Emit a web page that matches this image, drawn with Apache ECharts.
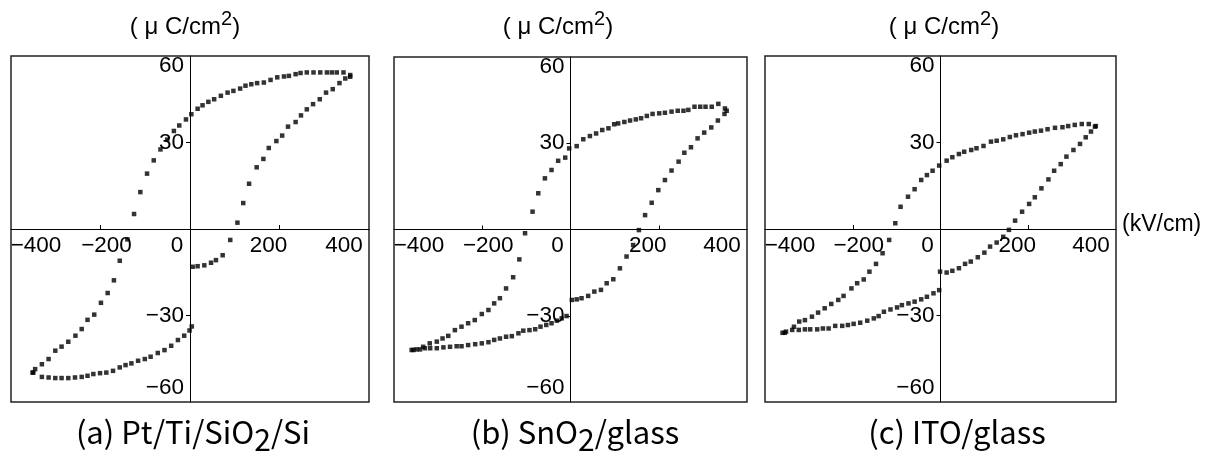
<!DOCTYPE html>
<html>
<head>
    <meta charset="utf-8">
    <title>P-E hysteresis</title>
    <script src="https://cdn.jsdelivr.net/npm/echarts@6/dist/echarts.min.js"></script>
    <style>
        html, body { margin: 0; padding: 0; background: #fff; }
        #main { width: 1213px; height: 458px; }
    </style>
</head>
<body>
<div id="main"></div>
<script>
    // field (kV/cm) and polarization (uC/cm2)
    // (a) Pt/Ti/SiO2/Si
    var aUpE = [358,343,328,317,306,291,276,261,247,236,221,210,195,180,165,150,137,124,112,97,84,69,54,41,28,17,3,-9,-24,-36,-51,-66,-81,-96,-111,-125,-140,-157,-170,-184,-199,-214,-229,-242,-256,-272,-287,-301,-316,-331,-346,-352];
    var aUpP = [53.4,54.3,54.3,54.3,54.3,54.3,54.3,54.3,54.1,53.7,53.1,52.9,52.6,51.7,50.8,50.6,50.2,49.7,48.7,47.9,47.3,46.2,45.0,44.1,42.9,41.7,39.8,38.0,35.9,34.0,31.0,27.6,23.8,19.2,12.8,5.2,-3.6,-11.0,-17.8,-22.2,-25.6,-29.7,-31.5,-34.7,-37.0,-39.1,-40.8,-42.2,-45.1,-46.9,-48.6,-49.8];
    var aLoE = [-350,-331,-316,-301,-287,-272,-257,-242,-229,-216,-201,-187,-172,-157,-144,-131,-116,-101,-88,-72,-57,-42,-27,-13,-1,4,6,17,32,47,58,73,90,106,119,132,149,164,176,193,206,219,236,248,261,275,290,304,319,334,347,358];
    var aLoP = [-49.8,-51.3,-51.5,-51.7,-51.7,-51.7,-51.5,-51.3,-50.9,-50.3,-50.0,-49.8,-49.2,-48.0,-47.2,-46.6,-45.7,-45.1,-44.3,-43.0,-42.0,-40.5,-38.5,-37.0,-35.2,-33.8,-13.1,-12.9,-12.6,-11.7,-10.8,-9.1,-3.8,2.2,9.0,15.7,21.4,24.3,28.1,30.5,32.4,35.5,37.1,39.4,41.5,43.3,45.0,47.3,48.5,50.6,52.2,52.8];

    // (b) SnO2/glass
    var bUpE = [350,335,320,306,294,281,267,256,243,229,214,201,186,173,160,148,135,122,108,99,86,72,58,44,29,14,-3,-12,-28,-43,-58,-73,-86,-103,-116,-130,-146,-160,-173,-186,-201,-217,-232,-247,-262,-277,-290,-303,-319,-334,-349,-360];
    var bUpP = [42.1,43.7,42.7,42.7,42.7,42.7,41.6,41.3,41.3,41.0,40.6,40.4,40.2,39.5,38.7,38.3,37.9,37.4,36.9,36.6,35.2,34.6,33.4,32.5,31.4,29.0,28.2,25.0,23.9,20.7,17.8,12.6,6.2,-1.3,-10.4,-16.6,-20.5,-23.9,-25.7,-28.0,-29.4,-31.5,-32.6,-33.8,-35.0,-37.0,-37.9,-39.0,-39.6,-40.8,-41.7,-41.9];
    var bLoE = [-356,-341,-330,-318,-303,-288,-273,-258,-247,-232,-216,-201,-186,-173,-160,-146,-133,-118,-107,-93,-80,-68,-55,-43,-31,-20,-9,3,14,25,40,54,69,82,97,112,127,142,155,169,184,199,214,229,245,258,273,288,303,319,334,349,354];
    var bLoP = [-41.9,-41.7,-41.3,-41.3,-41.3,-41.0,-40.8,-40.6,-40.6,-40.2,-39.9,-39.6,-39.2,-38.4,-37.9,-37.3,-37.1,-36.1,-35.2,-35.0,-34.7,-33.8,-33.2,-32.6,-31.7,-30.9,-30.1,-24.5,-24.3,-23.9,-23.1,-21.6,-21.0,-18.7,-17.3,-13.5,-9.4,-5.4,-0.2,5.0,9.3,13.7,17.2,20.5,23.6,26.7,28.6,31.7,33.7,35.5,37.9,40.2,41.3];

    // (c) ITO/glass
    var cUpE = [354,338,322,306,291,278,261,244,229,215,202,187,172,158,143,128,115,98,82,70,54,42,27,14,-3,-18,-31,-44,-59,-74,-91,-103,-117,-132,-147,-162,-175,-190,-203,-221,-233,-249,-264,-279,-293,-309,-322,-334,-352,-360];
    var cUpP = [35.7,36.4,36.4,36.1,35.7,35.3,35.1,34.6,34.1,33.8,33.4,32.9,32.5,31.9,31.1,30.6,30.3,28.8,28.0,27.4,26.8,26.0,24.9,23.7,22.0,20.2,18.7,17.0,13.8,11.2,7.7,2.0,-3.8,-8.4,-12.1,-14.8,-17.5,-18.8,-20.6,-23.2,-24.6,-26.0,-27.5,-29.0,-30.4,-31.6,-32.1,-33.9,-35.6,-36.0];
    var cLoE = [-355,-338,-323,-309,-297,-281,-268,-255,-240,-224,-211,-198,-183,-167,-152,-141,-129,-114,-99,-88,-73,-59,-44,-31,-16,-3,-1,14,27,42,56,69,85,100,113,128,143,156,170,186,202,215,230,246,259,274,287,303,318,331,343,352];
    var cLoP = [-36.0,-35.0,-35.0,-34.8,-34.8,-34.8,-34.5,-34.5,-33.6,-33.6,-33.3,-32.9,-32.5,-31.8,-31.0,-30.2,-28.7,-27.9,-27.2,-26.4,-25.8,-25.2,-24.4,-23.5,-22.3,-21.2,-14.8,-15.1,-14.5,-13.6,-12.1,-11.3,-9.8,-8.2,-6.1,-4.7,-2.7,-0.3,2.9,6.0,8.7,11.0,14.1,17.2,20.2,22.5,25.1,27.4,29.5,31.8,33.8,35.5];

    var xTicks = [-400, -200, 0, 200, 400];
    var yTicks = [-60, -30, 30, 60];

    function zip(e, p) {
        var out = [];
        for (let i = 0; i < e.length; i++) out.push([e[i], p[i]]);
        return out;
    }

    var sansFont = 'Liberation Sans';
    var capFont = 'Noto Sans CJK JP';
    var boxes = [
        {left: 11, top: 56, width: 358, height: 346},
        {left: 394, top: 57, width: 353, height: 345},
        {left: 765, top: 56, width: 351, height: 346}
    ];
    var loops = [
        zip(aUpE, aUpP).concat(zip(aLoE, aLoP)),
        zip(bUpE, bUpP).concat(zip(bLoE, bLoP)),
        zip(cUpE, cUpP).concat(zip(cLoE, cLoP))
    ];

    // labels sit a little inward of their ticks, as in the scan
    var xRich = {
        m400: {padding: [0, 0, 0, 50]},
        m200: {padding: [0, 0, 0, 12]},
        z: {padding: [0, 26, 0, 0]},
        p200: {padding: [0, 22, 0, 0]},
        p400: {padding: [0, 50, 0, 0]}
    };
    var yRich = {
        top: {padding: [20, 0, 0, 0]},
        bot: {padding: [0, 0, 28, 0]},
        mid: {}
    };

    function xLabel(v) {
        var key = {'-400': 'm400', '-200': 'm200', '0': 'z', '200': 'p200', '400': 'p400'}[String(v)];
        var txt = v < 0 ? '\u2212' + Math.abs(v) : String(v);
        return '{' + key + '|' + txt + '}';
    }
    function yLabel(v) {
        var key = v === 60 ? 'top' : (v === -60 ? 'bot' : 'mid');
        var txt = v < 0 ? '\u2212' + Math.abs(v) : String(v);
        return '{' + key + '|' + txt + '}';
    }

    var grids = [], xAxes = [], yAxes = [], series = [];
    for (let i = 0; i < 3; i++) {
        var b = boxes[i];
        grids.push({
            left: b.left, top: b.top, width: b.width, height: b.height,
            outerBoundsMode: 'none', containLabel: false,
            show: true, borderColor: '#222', borderWidth: 1.5,
            backgroundColor: 'transparent'
        });
        // axes run through the middle of the box, where zero sits
        xAxes.push({
            type: 'value', gridIndex: i, min: -400, max: 400, interval: 200,
            position: 'bottom', offset: -b.height / 2,
            axisLine: {onZero: false, lineStyle: {color: '#000', width: 1}},
            axisTick: {show: true, inside: true, length: 4, customValues: [-200, 200], lineStyle: {color: '#000'}},
            axisLabel: {
                customValues: xTicks, margin: 5, formatter: xLabel, rich: xRich,
                color: '#000', fontSize: 22.5, fontFamily: sansFont
            },
            splitLine: {show: false}
        });
        yAxes.push({
            type: 'value', gridIndex: i, min: -60, max: 60, interval: 30,
            position: 'left', offset: -b.width / 2,
            axisLine: {onZero: false, lineStyle: {color: '#000', width: 1}},
            axisTick: {show: true, length: 4, customValues: [-30, 30], lineStyle: {color: '#000'}},
            axisLabel: {
                customValues: yTicks, margin: 6, formatter: yLabel, rich: yRich,
                color: '#000', fontSize: 22.5, fontFamily: sansFont
            },
            splitLine: {show: false}
        });
        series.push({
            type: 'scatter', xAxisIndex: i, yAxisIndex: i,
            symbol: 'rect', symbolSize: [4.5, 4.5],
            itemStyle: {color: '#000'},
            data: loops[i]
        });
    }

    var unitRich = {
        n: {fontSize: 24, lineHeight: 30, verticalAlign: 'bottom', fontFamily: sansFont, fill: '#000'},
        s: {fontSize: 20, lineHeight: 22, verticalAlign: 'top', fontFamily: sansFont, fill: '#000'}
    };
    var capRich = {
        n: {fontSize: 31, lineHeight: 38, verticalAlign: 'top', fontFamily: capFont, fill: '#000'},
        d: {fontSize: 30, lineHeight: 28, verticalAlign: 'bottom', fontFamily: capFont, fill: '#000'}
    };

    function unitText(x) {
        return {
            type: 'text', x: x, y: 24,
            style: {text: '{n|( \u03bc C/cm}{s|2}{n|)}', rich: unitRich, align: 'center', verticalAlign: 'middle'}
        };
    }
    function capText(x, txt) {
        return {
            type: 'text', x: x, y: 436,
            style: {text: txt, rich: capRich, align: 'center', verticalAlign: 'middle'}
        };
    }

    var chart = echarts.init(document.getElementById('main'), null, {renderer: 'canvas'});
    chart.setOption({
        animation: false,
        backgroundColor: '#fff',
        grid: grids,
        xAxis: xAxes,
        yAxis: yAxes,
        series: series,
        graphic: [
            unitText(185), unitText(558), unitText(944),
            capText(193, '{n|(a) Pt/Ti/SiO}{d|2}{n|/Si}'),
            capText(575, '{n|(b) SnO}{d|2}{n|/glass}'),
            capText(957, '{n|(c) ITO/glass}'),
            {
                type: 'text', x: 1122, y: 225,
                style: {text: '(kV/cm)', fontSize: 23, fontFamily: sansFont, fill: '#000', align: 'left', verticalAlign: 'middle'}
            }
        ]
    });
</script>
</body>
</html>
